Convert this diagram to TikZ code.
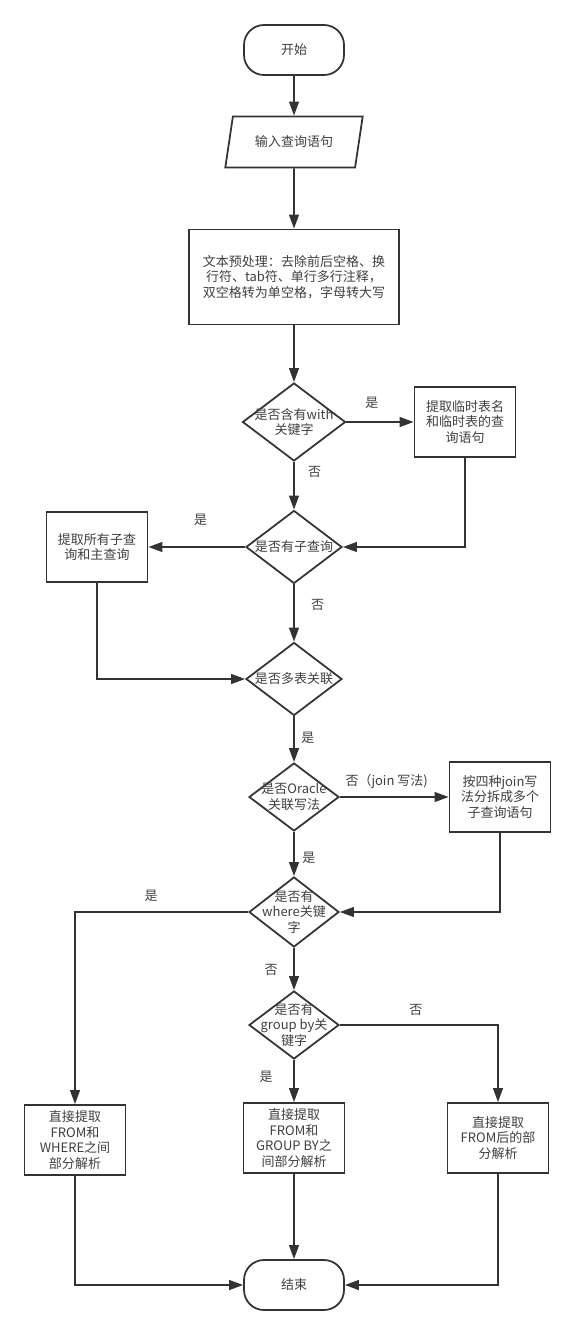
\documentclass[tikz,border=0pt]{standalone}
\usepackage{fontspec}
\setmainfont{Noto Sans CJK SC}
\usetikzlibrary{shapes.geometric,arrows.meta,positioning,calc}
\definecolor{linegray}{RGB}{51,51,51}
\definecolor{textgray}{RGB}{64,64,64}
\tikzset{
  base/.style={draw=linegray, line width=1pt, fill=white, text=textgray, align=center, inner sep=1pt, font=\fontsize{7.4}{8.8}\selectfont},
  terminal/.style={base, rounded corners=0.4cm, minimum width=2cm, minimum height=1cm},
  io/.style={base, trapezium, trapezium stretches=true, trapezium left angle=72, trapezium right angle=108, minimum width=2.76cm, minimum height=1.02cm},
  process/.style={base, minimum width=2.02cm, minimum height=1.4cm},
  decision/.style={base, diamond, minimum width=1.8cm, minimum height=1.36cm},
  flow/.style={draw=linegray, line width=1pt, -{Triangle[length=8pt,width=5.6pt]}},
  lbl/.style={text=textgray, inner sep=1pt, font=\fontsize{7.4}{8.8}\selectfont},
}
\begin{document}
\begin{tikzpicture}[x=0.02cm, y=-0.02cm]
  \useasboundingbox (0,0) rectangle (575,1335);
  % main column
  \node[terminal] (start) at (294,50) {开始};
  \node[io] (input) at (294,142) {输入查询语句};
  \node[process, minimum width=4.2cm, minimum height=1.9cm] (prep) at (294,277) {文本预处理：去除前后空格、换\\行符、tab符、单行多行注释，\\双空格转为单空格，字母转大写};
  \node[decision, minimum width=2.06cm, minimum height=1.56cm, label={[lbl,align=center]center:是否含有with\\关键字}] (qwith) at (294,422) {};
  \node[decision, minimum width=1.92cm, minimum height=1.46cm, label={[lbl]center:是否有子查询}] (qsub) at (294,547) {};
  \node[decision, minimum width=1.92cm, minimum height=1.46cm, label={[lbl]center:是否多表关联}] (qjoin) at (294,679) {};
  \node[decision, label={[lbl,align=center]center:是否Oracle\\关联写法}] (qora) at (294,797) {};
  \node[decision, minimum height=1.4cm, label={[lbl,align=center]center:是否有\\where关键\\字}] (qwhere) at (294,912) {};
  \node[decision, label={[lbl,align=center]center:是否有\\group by关\\键字}] (qgroup) at (294,1025) {};
  % side boxes
  \node[process] (tmp) at (465,422) {提取临时表名\\和临时表的查\\询语句};
  \node[process] (allsub) at (97,547) {提取所有子查\\询和主查询};
  \node[process] (split) at (500,797) {按四种join写\\法分拆成多个\\子查询语句};
  % results
  \node[process] (fromwhere) at (75,1140) {直接提取\\FROM和\\WHERE之间\\部分解析};
  \node[process] (fromgroup) at (294,1138) {直接提取\\FROM和\\GROUP BY之\\间部分解析};
  \node[process] (fromonly) at (498,1138) {直接提取\\FROM后的部\\分解析};
  \node[terminal] (end) at (294,1285) {结束};

  % connectors
  \draw[flow] (start) -- (input);
  \draw[flow] (input) -- (prep);
  \draw[flow] (prep) -- (qwith);
  \draw[flow] (qwith.east) -- node[lbl, pos=0.38, above=6pt] {是} (tmp.west);
  \draw[flow] (qwith.south) -- node[lbl, pos=0.22, right=6.6pt] {否} (qsub.north);
  \draw[flow] (tmp.south) |- (qsub.east);
  \draw[flow] (qsub.west) -- node[lbl, pos=0.46, above=10.6pt] {是} (allsub.east);
  \draw[flow] (qsub.south) -- node[lbl, pos=0.36, right=8.3pt] {否} (qjoin.north);
  \draw[flow] (allsub.south) |- (qjoin.west);
  \draw[flow] (qjoin.south) -- node[lbl, pos=0.46, right=2.7pt] {是} (qora.north);
  \draw[flow] (qora.east) -- node[lbl, pos=0.43, above=3.2pt] {否（join 写法)} (split.west);
  \draw[flow] (qora.south) -- node[lbl, pos=0.59, right=3.2pt] {是} (qwhere.north);
  \draw[flow] (split.south) |- (qwhere.east);
  \draw[flow] (qwhere.west) -| node[lbl, pos=0.28, above=4.4pt] {是} (fromwhere.north);
  \draw[flow] (qwhere.south) -- node[lbl, pos=0.52, left=7.8pt] {否} (qgroup.north);
  \draw[flow] (qgroup.east) -| node[lbl, pos=0.24, above=3.8pt] {否} (fromonly.north);
  \draw[flow] (qgroup.south) -- node[lbl, pos=0.39, left=10.6pt] {是} (fromgroup.north);
  \draw[flow] (fromwhere.south) |- (end.west);
  \draw[flow] (fromgroup) -- (end);
  \draw[flow] (fromonly.south) |- (end.east);
\end{tikzpicture}
\end{document}
